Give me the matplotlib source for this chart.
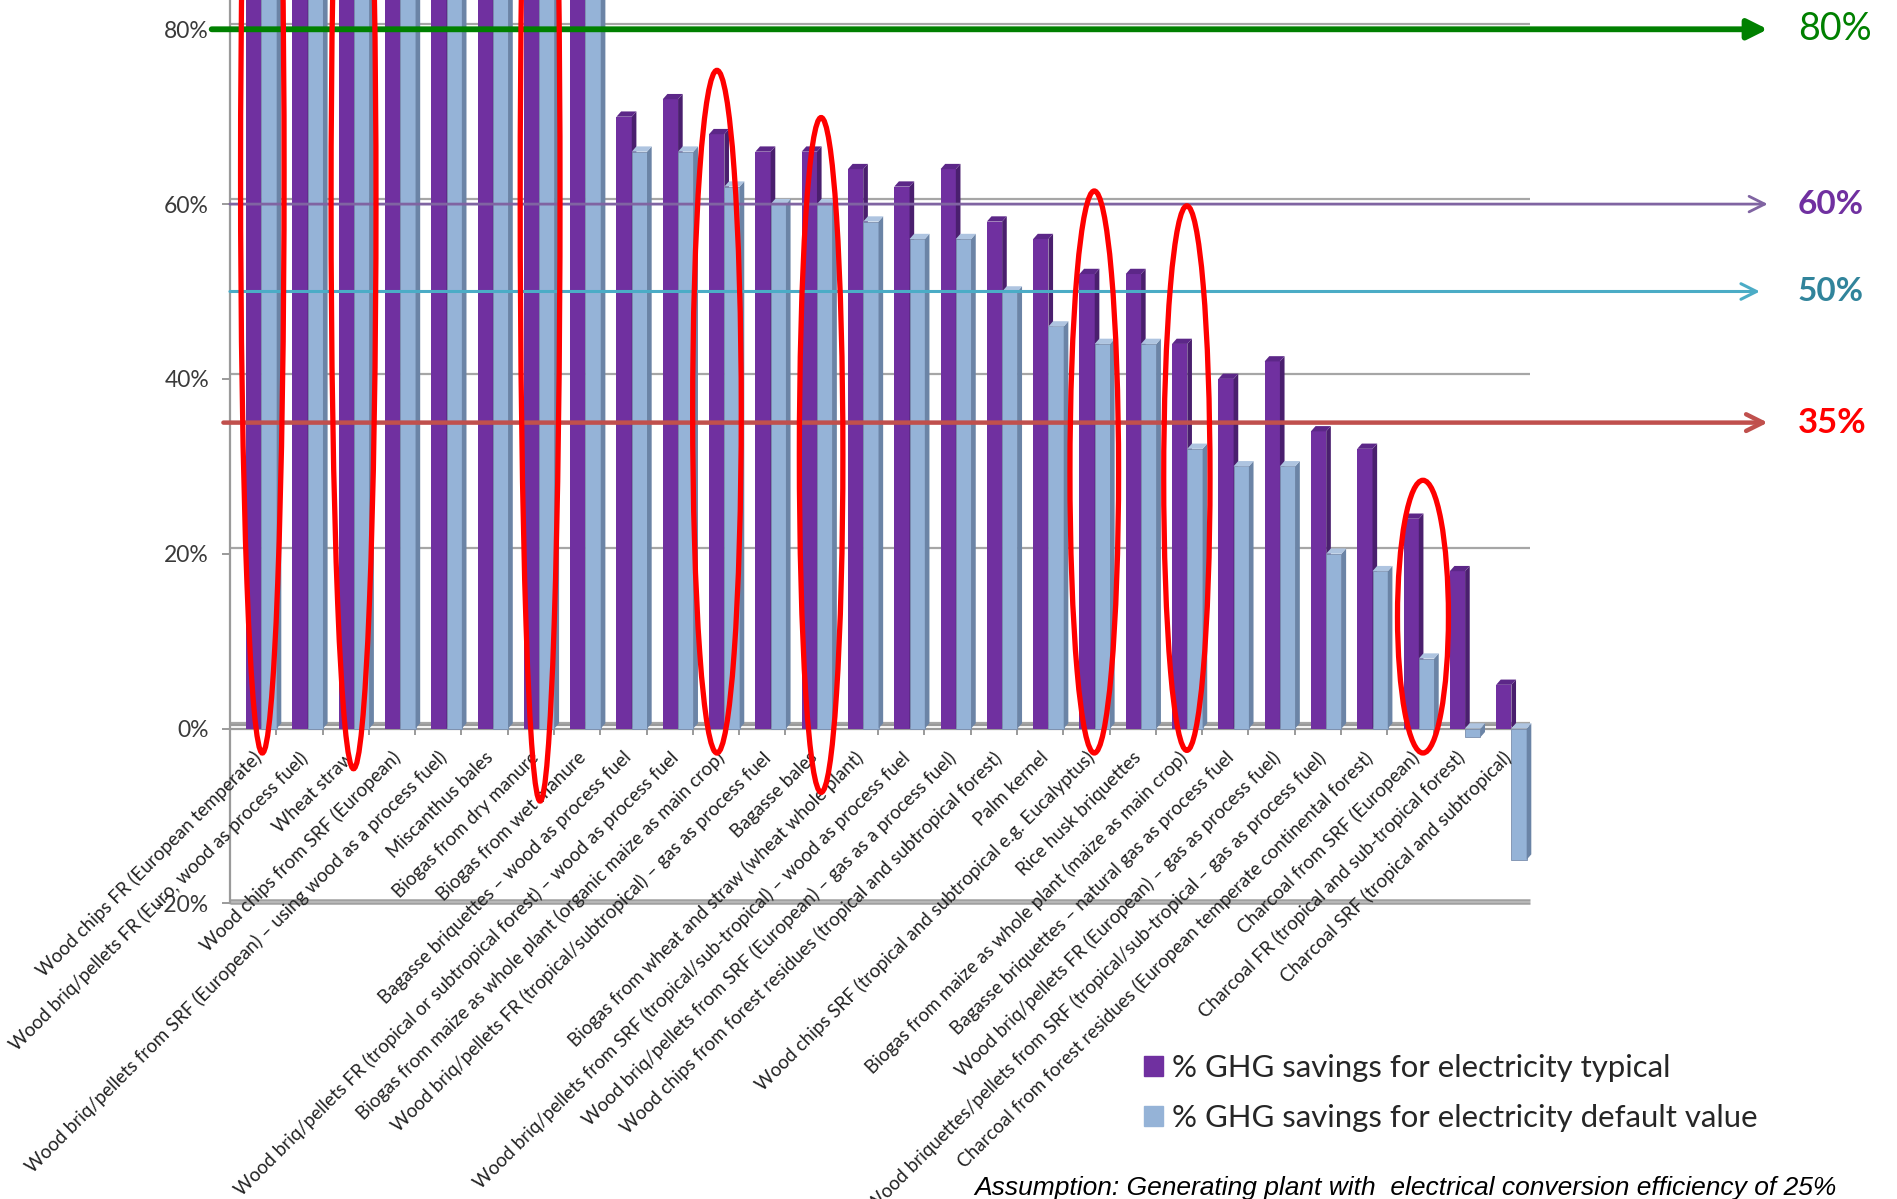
import numpy as np
import matplotlib.pyplot as plt
from matplotlib.patches import Ellipse, Patch

# GHG savings for electricity, 25% conversion efficiency
categories = [
    "Wood chips FR (European temperate)",
    "Wood briq/pellets FR (Euro, wood as process fuel)",
    "Wheat straw",
    "Wood chips from SRF (European)",
    "Wood briq/pellets from SRF (European) \u2013 using wood as a process fuel)",
    "Miscanthus bales",
    "Biogas from dry manure",
    "Biogas from wet manure",
    "Bagasse briquettes \u2013 wood as process fuel",
    "Wood briq/pellets FR (tropical or subtropical forest) \u2013 wood as process fuel",
    "Biogas from maize as whole plant (organic maize as main crop)",
    "Wood briq/pellets FR (tropical/subtropical) \u2013 gas as process fuel",
    "Bagasse bales",
    "Biogas from wheat and straw (wheat whole plant)",
    "Wood briq/pellets from SRF (tropical/sub-tropical) \u2013 wood as process fuel",
    "Wood briq/pellets from SRF (European) \u2013 gas as a process fuel)",
    "Wood chips from forest residues (tropical and subtropical forest)",
    "Palm kernel",
    "Wood chips SRF (tropical and subtropical e.g. Eucalyptus)",
    "Rice husk briquettes",
    "Biogas from maize as whole plant (maize as main crop)",
    "Bagasse briquettes \u2013 natural gas as process fuel",
    "Wood briq/pellets FR (European) \u2013 gas as process fuel)",
    "Wood briquettes/pellets from SRF (tropical/sub-tropical \u2013 gas as process fuel)",
    "Charcoal from forest residues (European temperate continental forest)",
    "Charcoal from SRF (European)",
    "Charcoal FR (tropical and sub-tropical forest)",
    "Charcoal SRF (tropical and subtropical)",
]
typical = [93, 89, 88, 91, 87, 88, 110, 125, 70, 72, 68, 66, 66, 64,
           62, 64, 58, 56, 52, 52, 44, 40, 42, 34, 32, 24, 18, 5]
default = [91, 87, 85, 89, 85, 85, 108, 120, 66, 66, 62, 60, 60, 58,
           56, 56, 50, 46, 44, 44, 32, 30, 30, 20, 18, 8, -1, -15]

thresholds = [80, 60, 50, 35]
threshold_labels = ["80%", "60%", "50%", "35%"]

# categories picked out with a red ring, and the ring extents (%)
circled = [0, 2, 6, 10, 12, 18, 20, 25]
ring_top = [130, 125, 130, 75.3, 69.9, 61.5, 59.8, 28.4]
ring_bottom = [-2.8, -4.6, -8.3, -2.8, -7.3, -2.8, -2.5, -2.8]

yticks = [-20, 0, 20, 40, 60, 80]

LBL = ["Lato", "DejaVu Sans"]
PURPLE, PURPLE_SIDE, PURPLE_TOP = "#7030a0", "#4a1f6e", "#5c2788"
BLUE, BLUE_SIDE, BLUE_TOP = "#95b3d7", "#6b84a6", "#aec4e0"

fig = plt.figure(figsize=(18.97, 11.99), dpi=100)
ax = fig.add_axes([0.1212, 0.2466, 0.687, 0.7534])
ax.set_xlim(-0.5, 27.65)
ax.set_ylim(-20, 83.35)

x = np.arange(len(categories))
w, d, dy = 0.33, 0.1, 0.6   # bar width, depth offset (x), depth offset (y)
split = x + 0.18            # purple/blue seam of each pair

# back wall gridlines and floor
for v in yticks[1:]:
    ax.hlines(v + dy, -0.5, 27.58, color="#a6a6a6", lw=1.6, zorder=1)
ax.hlines([0, 0 + 0.4], -0.5, 27.58, color="#9a9a9a", lw=1.6, zorder=1)
ax.hlines([-20, -19.6], -0.5, 27.58, color="#a0a0a0", lw=1.8, zorder=1,
          clip_on=False)
ax.vlines(x + 0.5, -0.7, 0, color="#9a9a9a", lw=1.4, zorder=1)


def faces(left, vals, side_c, top_c):
    for xl, v in zip(left, vals):
        xr = xl + w
        top = max(v, 0)
        ax.fill([xr, xr + d, xr + d, xr], [0, dy, v + dy, v],
                color=side_c, lw=0, zorder=3)
        ax.fill([xl, xr, xr + d, xl + d], [top, top, top + dy, top + dy],
                color=top_c, lw=0, zorder=3)


ax.bar(split - w, typical, width=w, align="edge", color=PURPLE, zorder=3)
faces(split - w, typical, PURPLE_SIDE, PURPLE_TOP)
ax.bar(split, default, width=w, align="edge", color=BLUE, zorder=3,
       edgecolor="#7b8fae", linewidth=0.6)
faces(split, default, BLUE_SIDE, BLUE_TOP)

# axes styling
for s in ["top", "right", "bottom"]:
    ax.spines[s].set_visible(False)
ax.spines["left"].set_color("#9a9a9a")
ax.spines["left"].set_linewidth(1.6)
ax.set_xticks([])
ax.set_yticks(yticks)
ax.set_yticklabels([f"{v}%" for v in yticks], family=LBL, fontsize=16.5,
                   color="#3a3a3a")
ax.tick_params(axis="y", length=6, width=1.4, color="#9a9a9a", pad=9)

# category labels along the floor
for k, name in zip(x, categories):
    ax.text(k + 0.12, -3.0, name, rotation=45, rotation_mode="anchor",
            ha="right", va="center", fontsize=13.5, family=LBL,
            color="#222222", clip_on=False, zorder=5)

# threshold arrows
arrow_styles = [
    dict(color="#008000", lw=4.2, arrowstyle="-|>", mutation_scale=30),
    dict(color="#8064a2", lw=2.0, arrowstyle="->", mutation_scale=28),
    dict(color="#4bacc6", lw=2.2, arrowstyle="->", mutation_scale=28),
    dict(color="#c0504d", lw=3.2, arrowstyle="->", mutation_scale=30),
]
starts = [-0.014, 0.0, 0.0, -0.005]
ends = [1.18, 1.18, 1.174, 1.18]
text_colors = ["#008000", "#7030a0", "#31849b", "#ff0000"]
text_sizes = [27, 24, 24, 25]
text_weights = ["normal", "bold", "bold", "bold"]
for v, lab, st, x0, x1, tc, ts, tw in zip(thresholds, threshold_labels,
                                          arrow_styles, starts, ends,
                                          text_colors, text_sizes,
                                          text_weights):
    ax.annotate("", xy=(x1, v), xytext=(x0, v),
                xycoords=("axes fraction", "data"),
                textcoords=("axes fraction", "data"),
                arrowprops=dict(shrinkA=0, shrinkB=0, **st),
                annotation_clip=False, zorder=6)
    ax.text(1.203, v, lab, transform=ax.get_yaxis_transform(),
            ha="left", va="center", fontsize=ts, family=LBL, color=tc,
            fontweight=tw)

# red rings
shift = [0.2, 0.17, 0.2, 0.02, 0.27, 0.17, 0.17, 0.27]
widths = [0.94, 0.97, 0.86, 1.05, 0.94, 1.05, 1.0, 1.1]
for k, top, bot, sh, wd in zip(circled, ring_top, ring_bottom, shift, widths):
    ax.add_patch(Ellipse((k + sh, (top + bot) / 2), wd, top - bot,
                         fill=False, edgecolor="#ff0000", lw=3.8,
                         zorder=7, clip_on=False))

handles = [Patch(color=PURPLE), Patch(color=BLUE)]
fig.legend(handles, ["% GHG savings for electricity typical",
                     "% GHG savings for electricity default value"],
           loc="upper left", bbox_to_anchor=(0.603, 0.121), frameon=False,
           prop=dict(family=LBL, size=22.4), handlelength=0.6,
           handleheight=0.6, handletextpad=0.3, labelspacing=0.72,
           borderpad=0, borderaxespad=0, labelcolor="#262626")

fig.text(0.5134, 0.009, "Assumption: Generating plant with  electrical "
         "conversion efficiency of 25%", style="italic", fontsize=19,
         family=["Liberation Sans", "DejaVu Sans"], ha="left",
         va="center", color="black")

fig.savefig("out.png", dpi=100)
